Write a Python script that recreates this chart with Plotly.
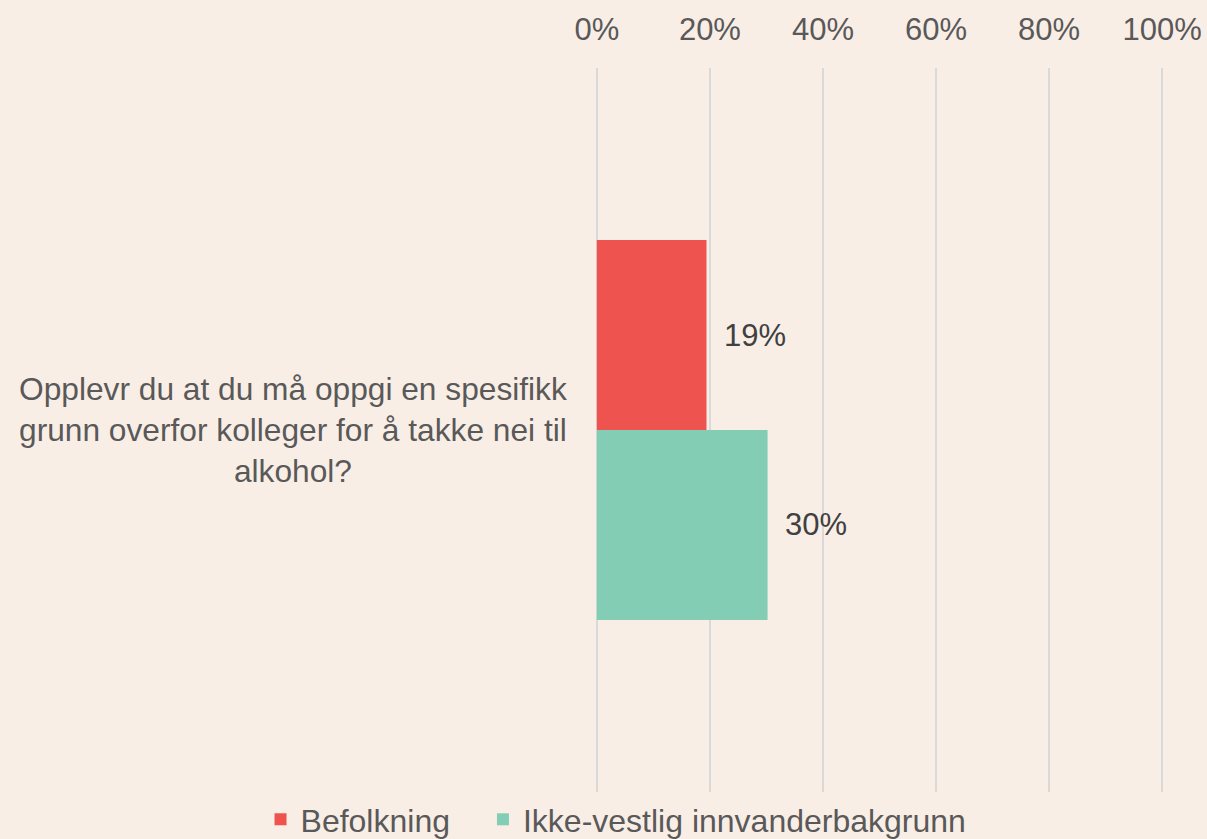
import plotly.graph_objects as go

# Data
question = "Opplevr du at du må oppgi en spesifikk<br>grunn overfor kolleger for å takke nei til<br>alkohol?"
categories = [question]
series_names = ["Befolkning", "Ikke-vestlig innvanderbakgrunn"]
befolkning = [0.194]
ikke_vestlig = [0.302]
tick_vals = [0, 0.2, 0.4, 0.6, 0.8, 1.0]
tick_text = ["0%", "20%", "40%", "60%", "80%", "100%"]

bg = "#F9EEE6"
grey = "#595959"
font_family = "Liberation Sans, Arial, sans-serif"
colors = ["#EF5350", "#82CDB4"]
legend_ids = ["legend", "legend2"]

fig = go.Figure()
for name, vals, col, lg in zip(series_names, [befolkning, ikke_vestlig], colors, legend_ids):
    fig.add_trace(go.Bar(
        y=categories, x=vals, name=name, orientation="h",
        marker=dict(color=col, line=dict(width=0)),
        hoverinfo="x+name", legend=lg, showlegend=True,
    ))

# Data labels, pushed a bit right of the bar ends like in the reference
for vals, ypos in zip([befolkning, ikke_vestlig], [0.631, 0.369]):
    fig.add_annotation(
        x=vals[0], y=ypos, xref="x", yref="paper", text=f"{vals[0]:.0%}",
        xanchor="left", yanchor="middle", xshift=15, showarrow=False,
        font=dict(size=31, color="#404040", family=font_family),
    )

# Category label as a centred annotation (tick labels can't be centred)
fig.add_annotation(
    text=categories[0], xref="paper", yref="paper", x=-0.5266, y=0.5,
    xanchor="center", yanchor="middle", align="center", showarrow=False,
    font=dict(size=31.7, color=grey, family=font_family),
)

# one legend per series so the spacing can match the reference
legend_style = dict(orientation="h", xanchor="left", y=-0.038, yanchor="middle",
                    font=dict(size=32, color=grey), bgcolor="rgba(0,0,0,0)")

fig.update_layout(
    width=1207, height=839, showlegend=True,
    paper_bgcolor=bg, plot_bgcolor=bg,
    barmode="group", bargap=0.475, bargroupgap=0,
    margin=dict(l=594, r=42, t=68, b=47, autoexpand=False),
    font=dict(family=font_family, color=grey),
    xaxis=dict(
        side="top", range=[-0.005, 1.005], tickvals=tick_vals, ticktext=tick_text,
        showgrid=True, gridcolor="#D9D9D9", gridwidth=1.5,
        zeroline=False, showline=False, ticks="",
        tickfont=dict(size=31, color=grey), ticklabelstandoff=21,
    ),
    yaxis=dict(
        type="category", range=[0.5, -0.5], showticklabels=False,
        showgrid=False, zeroline=False, showline=False, ticks="",
    ),
    legend=dict(x=-0.584, **legend_style),
    legend2=dict(x=-0.1945, **legend_style),
)

fig.write_html("out.html", config={"displayModeBar": False},
               post_script="document.body.style.margin='0';")
